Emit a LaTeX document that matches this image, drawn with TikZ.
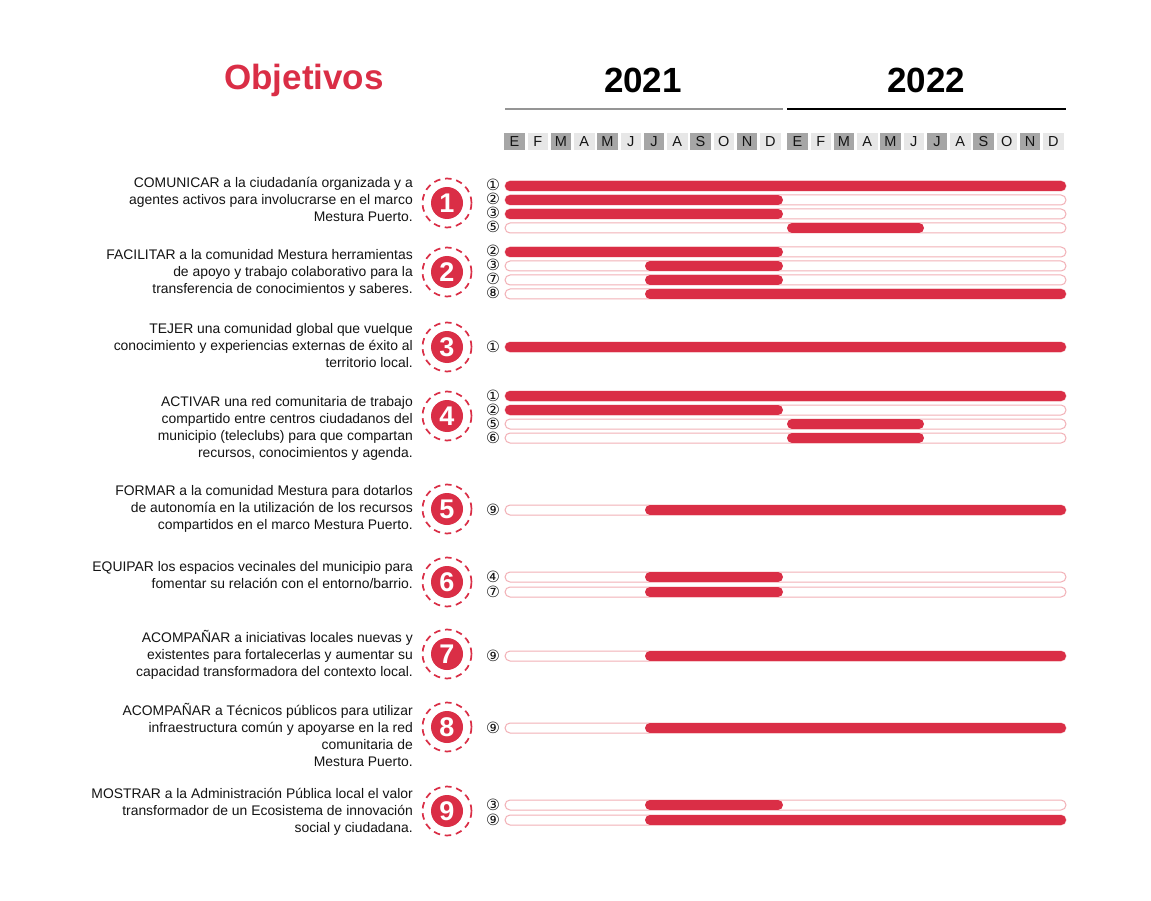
\documentclass[tikz,border=0pt]{standalone}
\usepackage{fontspec}
\setmainfont{Liberation Sans}
\newfontfamily\dejavu{DejaVu Sans}
\definecolor{mpred}{RGB}{218,46,70}
\definecolor{mpdark}{RGB}{166,166,166}
\definecolor{mplight}{RGB}{231,231,231}
\definecolor{mppink}{RGB}{242,176,182}
\definecolor{mptext}{RGB}{20,20,20}
\newcommand\mprow[5]{%
  \node[numlab] (n#1) at (493,#2) {\raisebox{-5pt}{#3}};
  \draw[outl] (505,{#2-5}) rectangle (1066,{#2+5});
  \draw[redbar] ({#4+5},#2) -- ({#5-5},#2);
}
\begin{document}
\begin{tikzpicture}[x=1pt,y=-1pt,
  month/.style={minimum width=20.5pt,minimum height=17pt,inner sep=0pt,font=\fontsize{14.5}{14.5}\selectfont,text=mptext},
  obj/.style={anchor=east,align=right,inner sep=0pt,font=\fontsize{13.9}{17}\selectfont,text=mptext},
  numlab/.style={inner sep=0pt,text height=5pt,text depth=5pt,font=\dejavu\fontsize{15.5}{15.5}\selectfont,text=mptext},
  outl/.style={draw=mppink,line width=1pt,fill=white,rounded corners=5pt},
  redbar/.style={draw=mpred,line width=10pt,line cap=round},
  bigc/.style={circle,fill=mpred,minimum size=32pt,inner sep=0pt,text=white,font=\bfseries\fontsize{27}{27}\selectfont},
  ring/.style={draw=mpred,line width=1.7pt,dash pattern=on 6.5pt off 4.8pt},
  year/.style={font=\bfseries\fontsize{35}{35}\selectfont,inner sep=0pt}
]
\useasboundingbox[fill=white] (0,0) rectangle (1151,901);

% header
\node[year,text=mpred] (obj) at (304,80) {Objetivos};
\node[year,text=black] (y1) at (643,80) {2021};
\node[year,text=black] (y2) at (926,80) {2022};
\coordinate (l1a) at (505,109); \coordinate (l1b) at (783,109);
\coordinate (l2a) at (787,109); \coordinate (l2b) at (1066,109);
\draw[draw=mpdark!90!black,line width=2pt] (l1a) -- (l1b);
\draw[draw=black,line width=2pt] (l2a) -- (l2b);

% months
\foreach \l [count=\i from 0] in {E,F,M,A,M,J,J,A,S,O,N,D}{
  \pgfmathtruncatemacro\pp{mod(\i,2)}
  \ifnum\pp=0 \def\cc{mpdark}\else\def\cc{mplight}\fi
  \node[month,fill=\cc] (ma\i) at ({514.5+\i*23.25},142) {\l};
  \node[month,fill=\cc] (mb\i) at ({797.5+\i*23.25},142) {\l};
}

% objectives text
\node[obj] (t1) at (413,199) {COMUNICAR a la ciudadanía organizada y a\\agentes activos para involucrarse en el marco\\Mestura Puerto.};
\node[obj] (t2) at (413,273) {FACILITAR a la comunidad Mestura herramientas\\de apoyo y trabajo colaborativo para la\\transferencia de conocimientos y saberes.};
\node[obj] (t3) at (413,346) {TEJER una comunidad global que vuelque\\conocimiento y experiencias externas de éxito al\\territorio local.};
\node[obj] (t4) at (413,428) {ACTIVAR una red comunitaria de trabajo\\compartido entre centros ciudadanos del\\municipio (teleclubs) para que compartan\\recursos, conocimientos y agenda.};
\node[obj] (t5) at (413,509) {FORMAR a la comunidad Mestura para dotarlos\\de autonomía en la utilización de los recursos\\compartidos en el marco Mestura Puerto.};
\node[obj] (t6) at (413,575.5) {EQUIPAR los espacios vecinales del municipio para\\fomentar su relación con el entorno/barrio.};
\node[obj] (t7) at (413,655) {ACOMPAÑAR a iniciativas locales nuevas y\\existentes para fortalecerlas y aumentar su\\capacidad transformadora del contexto local.};
\node[obj] (t8) at (413,734.5) {ACOMPAÑAR a Técnicos públicos para utilizar\\infraestructura común y apoyarse en la red\\comunitaria de\\Mestura Puerto.};
\node[obj] (t9) at (413,812) {MOSTRAR a la Administración Pública local el valor\\transformador de un Ecosistema de innovación\\social y ciudadana.};

% big numbered circles
\foreach \k/\yy in {1/203,2/272,3/347,4/416,5/509,6/582,7/654,8/727,9/811}{
  \node[bigc] (c\k) at (447,\yy) {\k};
  \draw[ring] (c\k.center) circle (24.5pt);
}

% bars
\mprow{a1}{186}{①}{505}{1066}
\mprow{a2}{200}{②}{505}{783}
\mprow{a3}{214}{③}{505}{783}
\mprow{a4}{228}{⑤}{787}{924}
\mprow{b1}{252}{②}{505}{783}
\mprow{b2}{266}{③}{645}{783}
\mprow{b3}{280}{⑦}{645}{783}
\mprow{b4}{294}{⑧}{645}{1066}
\mprow{c1}{347}{①}{505}{1066}
\mprow{d1}{396}{①}{505}{1066}
\mprow{d2}{410}{②}{505}{783}
\mprow{d3}{424}{⑤}{787}{924}
\mprow{d4}{438}{⑥}{787}{924}
\mprow{e1}{510}{⑨}{645}{1066}
\mprow{f1}{577}{④}{645}{783}
\mprow{f2}{592}{⑦}{645}{783}
\mprow{g1}{656}{⑨}{645}{1066}
\mprow{h1}{728}{⑨}{645}{1066}
\mprow{i1}{805}{③}{645}{783}
\mprow{i2}{820}{⑨}{645}{1066}
\end{tikzpicture}
\end{document}
